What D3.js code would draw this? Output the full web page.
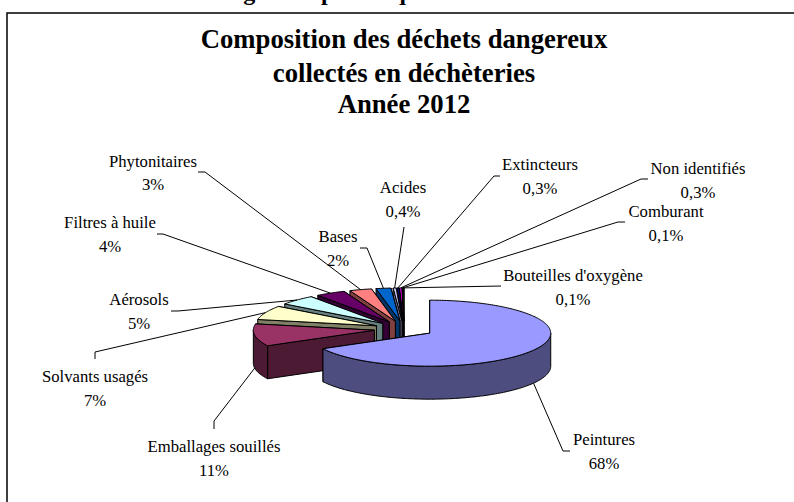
<!DOCTYPE html>
<html><head><meta charset="utf-8">
<script src="https://cdn.jsdelivr.net/npm/d3@7"></script>
<style>html,body{margin:0;padding:0;background:#fff;overflow:hidden}svg{display:block}text{font-family:"Liberation Serif",serif;fill:#000}</style>
</head><body><svg id="c" width="794" height="502"></svg>
<script>
const categories=["Peintures","Emballages souillés","Solvants usagés","Aérosols","Filtres à huile","Phytonitaires","Bases","Acides","Extincteurs","Non identifiés","Comburant","Bouteilles d'oxygène"];
const values=[68,11,7,5,4,3,2,0.4,0.3,0.3,0.1,0.1];
const valueLabels=["68%","11%","7%","5%","4%","3%","2%","0,4%","0,3%","0,3%","0,1%","0,1%"];
const colors=["#9999FF","#993366","#FFFFCC","#CCFFFF","#660066","#FF8080","#0066CC","#CCCCFF","#000080","#FF00FF","#FFFF00","#00FFFF"];
const titleLines=["Composition des déchets dangereux","collectés en déchèteries","Année 2012"];
// layout of the labels: [centre x, first baseline, second baseline], and the bend of the leader
const labelPos=[[604,445,469],[214,452,476],[95,382,406],[139,305,329],[110,228,252],[153,167,190],[338,242,266],[403,193,217],[540,170,194],[698,174,198],[666,217,241],[573,281,305]];
const leaderPts=[[[570,451],[563,451]],[[214,429],[214,421]],[[95,359],[95,352]],[[171,311],[178,311]],[[157,234],[163,234]],[[198,172],[205,172]],[[360,248],[367,248]],[[404,227]],[[500,176],[494,176]],[[648,179],[641,179]],[[625,222],[618,222]],[[501,286]]];

const svg=d3.select("#c");
const cx=404,cy=329,rx=121,ry=33,depth=33,explode=30,kExp=0.27;
const px=d3.scaleLinear().domain([-1,1]).range([-rx,rx]);
const py=d3.scaleLinear().domain([-1,1]).range([-ry,ry]);
const arcs=d3.pie().sort(null).value(d=>d)(values).map((a,i)=>{
  const mid=(a.startAngle+a.endAngle)/2;
  return {i,a0:a.startAngle,a1:a.endAngle,mid,
    ox:cx+explode*Math.sin(mid),oy:cy-explode*kExp*Math.cos(mid)};
});
const pt=(s,t)=>[s.ox+px(Math.sin(t)),s.oy-py(Math.cos(t))];
const samples=(a,b)=>{const n=Math.max(2,Math.ceil((b-a)/0.02));return d3.range(n+1).map(j=>a+(b-a)*j/n);};
const line=d3.line();
const side=c=>{const k=d3.rgb(c);return d3.rgb(k.r/2,k.g/2,k.b/2).formatHex();};

svg.append("text").attr("x",15).attr("y",0).attr("font-size",24).attr("font-weight","bold")
  .attr("textLength",432).attr("lengthAdjust","spacing").text("Les Déchets Ménagers Spécifiques");
svg.append("rect").attr("x",7).attr("y",13).attr("width",840).attr("height",540).attr("fill","#fff").attr("stroke","#000").attr("stroke-width",1.5);

svg.append("g").selectAll("text").data(titleLines).join("text")
  .attr("x",404).attr("y",(d,i)=>[48,82,113][i]).attr("text-anchor","middle")
  .attr("font-size",26.7).attr("font-weight","bold").text(d=>d);

// painter's order: small back slices first (clockwise from the back), then the large front ones
const order=d3.range(arcs.length).slice(2).reverse().concat([1,0]);
const g=svg.append("g").attr("stroke","#000").attr("stroke-width",1).attr("stroke-linejoin","round");
order.forEach(i=>{
  const s=arcs[i],c=colors[i],dk=side(c);
  [s.a1,s.a0].forEach(t=>{
    const p=pt(s,t);
    g.append("path").attr("fill",dk).attr("d",line([[s.ox,s.oy],p,[p[0],p[1]+depth],[s.ox,s.oy+depth]])+"Z");
  });
  const w0=Math.max(s.a0,Math.PI/2),w1=Math.min(s.a1,Math.PI*1.5);
  if(w1>w0){
    const top=samples(w0,w1).map(t=>pt(s,t));
    const bot=top.map(p=>[p[0],p[1]+depth]).reverse();
    g.append("path").attr("fill",dk).attr("d",line(top.concat(bot))+"Z");
  }
  g.append("path").attr("fill",c).attr("d",line([[s.ox,s.oy]].concat(samples(s.a0,s.a1).map(t=>pt(s,t))))+"Z");
});

// leaders run from each slice's outer mid point to the label
const lg=svg.append("g").attr("fill","none").attr("stroke","#000").attr("stroke-width",1);
arcs.forEach(s=>{
  const a=pt(s,s.mid);
  const front=Math.cos(s.mid)<0;
  const end=[a[0],a[1]+(front?depth:0)];
  lg.append("path").attr("d",line(leaderPts[s.i].concat([end])));
});

const tg=svg.append("g").attr("text-anchor","middle").attr("font-size",16.7);
categories.forEach((n,i)=>{
  const p=labelPos[i];
  tg.append("text").attr("x",p[0]).attr("y",p[1]).text(n);
  tg.append("text").attr("x",p[0]).attr("y",p[2]).text(valueLabels[i]);
});
</script></body></html>
